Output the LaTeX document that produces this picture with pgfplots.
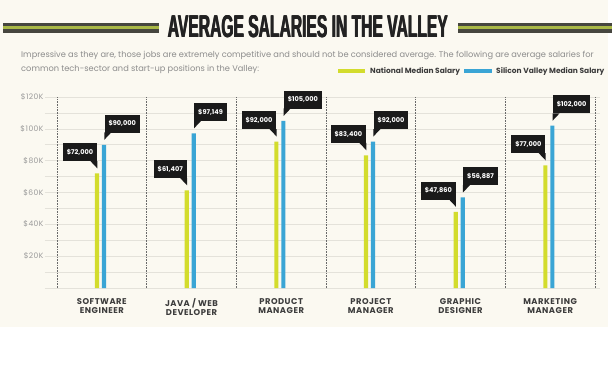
\documentclass[border=0pt]{standalone}
\usepackage{pgfplots}
\pgfplotsset{compat=1.18}
\usepackage{pgfplotstable}
\usepackage{graphicx}
\usepackage{fontspec}
\setmainfont{Poppins}
\newfontfamily\labelfont[LetterSpace=6]{Poppins}
\newfontfamily\titlefont{Liberation Sans}
\definecolor{bgc}{HTML}{FBF9F1}
\definecolor{gridc}{HTML}{E4E2DA}
\definecolor{sepc}{HTML}{6A6A6A}
\definecolor{ytc}{HTML}{9A9A9A}
\definecolor{xtc}{HTML}{3C3C3C}
\definecolor{titc}{HTML}{222222}
\definecolor{stripd}{HTML}{46463F}
\definecolor{stripg}{HTML}{A9B846}
\definecolor{subc}{HTML}{8C8C8C}
\definecolor{natc}{HTML}{D3DC2D}
\definecolor{svc}{HTML}{3AA5D5}
\definecolor{boxc}{HTML}{1A1A1A}
\pgfdeclarelayer{bg}
\pgfsetlayers{bg,main}

\pgfdeclareplotmark{tailL}{%
  \pgfpathmoveto{\pgfpoint{-4.5bp}{12.4bp}}%
  \pgfpathlineto{\pgfpoint{-11.5bp}{12.4bp}}%
  \pgfpathlineto{\pgfpoint{-4.5bp}{5bp}}%
  \pgfpathclose\pgfusepathqfill}
\pgfdeclareplotmark{tailR}{%
  \pgfpathmoveto{\pgfpoint{2.5bp}{12.4bp}}%
  \pgfpathlineto{\pgfpoint{9.5bp}{12.4bp}}%
  \pgfpathlineto{\pgfpoint{2.5bp}{5bp}}%
  \pgfpathclose\pgfusepathqfill}

\pgfplotstableread{
x nat sv
0 72000 90000
1 61407 97149
2 92000 105000
3 83400 92000
4 47860 56887
5 77000 102000
}\salaries

\begin{document}
\begin{tikzpicture}
\begin{axis}[
  scale only axis, width=555bp, height=191bp,
  xmin=-0.634, xmax=5.556, ymin=0, ymax=120000,
  clip=false,
  axis line style={draw=none},
  tick style={draw=none},
  major tick length=0pt, minor tick length=0pt,
  xtick={0,...,5},
  xticklabels={SOFTWARE\\ENGINEER, JAVA / WEB\\DEVELOPER, PRODUCT\\MANAGER, PROJECT\\MANAGER, GRAPHIC\\DESIGNER, MARKETING\\MANAGER},
  xticklabel style={align=center, text=xtc, font=\labelfont\bfseries\fontsize{8.4}{9.5}\selectfont, yshift=-7bp},
  ytick={0,20000,...,120000},
  yticklabels={,\$20K,\$40K,\$60K,\$80K,\$100K,\$120K},
  scaled y ticks=false,
  yticklabel style={text=ytc, font=\labelfont\fontsize{7.6}{8}\selectfont, anchor=east, xshift=2bp},
  minor y tick num=1,
  ymajorgrids, yminorgrids,
  major grid style={draw=gridc, line width=0.6bp},
  minor grid style={draw=gridc, line width=0.6bp},
  extra x ticks={-0.5,0.5,1.5,2.5,3.5,4.5,5.5},
  extra x tick labels={},
  extra x tick style={grid=major, major grid style={draw=sepc, densely dotted, line width=0.6bp}},
]
\addplot[ybar, bar width=4.2bp, bar shift=-4.8bp, fill=natc, draw=none] table[x=x,y=nat]{\salaries};
\addplot[ybar, bar width=4.2bp, bar shift=2.2bp, fill=svc, draw=none] table[x=x,y=sv]{\salaries};
\addplot[only marks, mark=tailL, color=boxc, point meta=y,
  nodes near coords={\$\pgfmathprintnumber[fixed,precision=0,1000 sep={,},assume math mode=true]{\pgfplotspointmeta}},
  every node near coord/.append style={anchor=south east, xshift=-4.5bp, yshift=12bp, fill=boxc, text=white,
    font=\fontsize{6.6}{7}\selectfont\bfseries, minimum height=18bp, inner xsep=4bp, inner ysep=0pt}]
  table[x=x,y=nat]{\salaries};
\addplot[only marks, mark=tailR, color=boxc, point meta=y,
  nodes near coords={\$\pgfmathprintnumber[fixed,precision=0,1000 sep={,},assume math mode=true]{\pgfplotspointmeta}},
  every node near coord/.append style={anchor=south west, xshift=2.5bp, yshift=12bp, fill=boxc, text=white,
    font=\fontsize{6.6}{7}\selectfont\bfseries, minimum height=18bp, inner xsep=4bp, inner ysep=0pt}]
  table[x=x,y=sv]{\salaries};
\end{axis}
\begin{scope}[shift={(current axis.south west)}, xshift=-45bp, yshift=-97bp, x=1bp, y=1bp]
\path[use as bounding box] (0,0) rectangle (616,385);
\begin{pgfonlayer}{bg}
\fill[white] (0,0) rectangle (616,385);
\fill[bgc] (0,58) rectangle (608,385);
\end{pgfonlayer}
% title stripes
\fill[stripd] (3,352) rectangle (159,362);
\fill[stripg] (3,355.8) rectangle (159,359.2);
\fill[stripd] (458,352) rectangle (612,362);
\fill[stripg] (458,355.8) rectangle (612,359.2);
% title (thickened by overprinting)
\foreach \dx in {0,0.4,0.8}{
\node[anchor=base, inner sep=0, text=titc] at (307.5+\dx,347.7) {\resizebox{280bp}{22bp}{\titlefont\bfseries AVERAGE SALARIES IN THE VALLEY}};
}
% subtitle
\node[anchor=base west, inner sep=0, text=subc, font=\fontsize{8.3}{9}\selectfont] at (21,327.5) {Impressive as they are, those jobs are extremely competitive and should not be considered average. The following are average salaries for};
\node[anchor=base west, inner sep=0, text=subc, font=\fontsize{8.3}{9}\selectfont] at (21,314) {common tech-sector and start-up positions in the Valley:};
% legend
\fill[natc] (338,312.5) rectangle (365,315.8);
\node[anchor=base west, inner sep=0, text=xtc, font=\fontsize{7.5}{8}\selectfont\bfseries] at (370,311.5) {National Median Salary};
\fill[svc] (464,312.5) rectangle (492,315.8);
\node[anchor=base west, inner sep=0, text=xtc, font=\fontsize{7.5}{8}\selectfont\bfseries] at (496,311.5) {Silicon Valley Median Salary};
\end{scope}
\end{tikzpicture}
\end{document}
